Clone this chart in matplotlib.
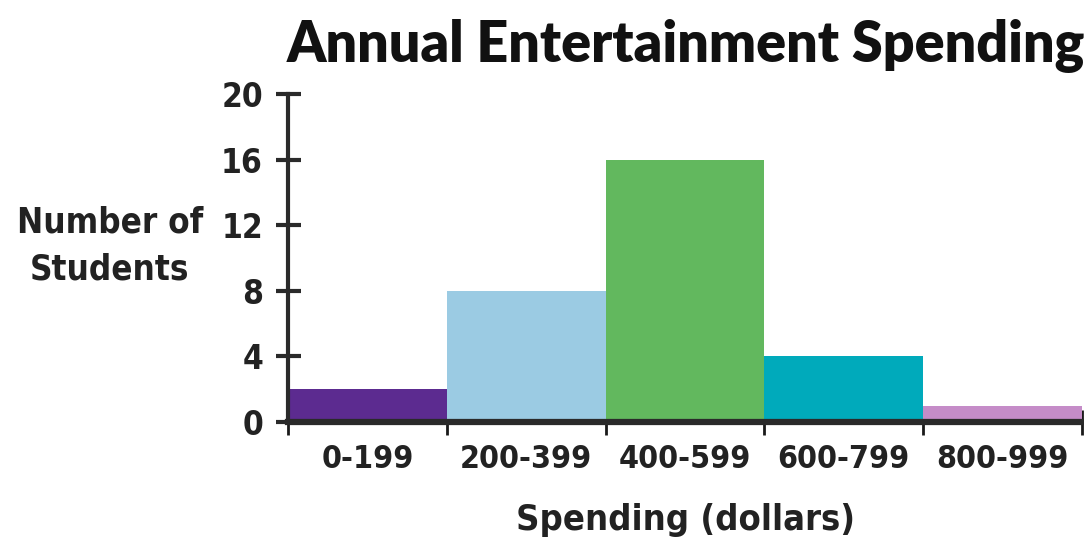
import matplotlib
matplotlib.use("Agg")
import matplotlib.pyplot as plt
import numpy as np

categories = ["0-199", "200-399", "400-599", "600-799", "800-999"]
counts = [2, 8, 16, 4, 1]
colors = ["#5C2B90", "#9BCBE3", "#62B85E", "#00AABB", "#C58CC8"]
yticks = [0, 4, 8, 12, 16, 20]

narrow = ["DejaVu Sans"]

fig = plt.figure(figsize=(10.84, 5.39), dpi=100)
ax = fig.add_axes([288/1084, 1-422/539, (1082-288)/1084, (422-94)/539])

x = np.arange(len(categories))
ax.bar(x, counts, width=1.0, color=colors, edgecolor="none", zorder=2)

ax.set_xlim(-0.5, len(categories) - 0.5)
ax.set_ylim(0, 20)

for s in ["top", "right"]:
    ax.spines[s].set_visible(False)
ax.spines["left"].set_linewidth(3)
ax.spines["bottom"].set_linewidth(4.5)
for s in ["left", "bottom"]:
    ax.spines[s].set_color("#2a2a2a")
    ax.spines[s].set_zorder(3)
ax.spines["left"].set_bounds(0, 20)

tp = dict(family=narrow, fontweight="bold", fontstretch="condensed", color="#222222")
ax.set_yticks(yticks)
ax.set_yticklabels([str(v) for v in yticks], fontsize=24, **tp)
ax.tick_params(axis="y", direction="inout", length=18, width=3, color="#2a2a2a", pad=9)

ax.set_xticks(x)
ax.set_xticklabels(categories, fontsize=23, **tp)
ax.tick_params(axis="x", which="major", length=0, pad=16)
ax.set_xticks(np.arange(-0.5, len(categories)), minor=True)
ax.tick_params(axis="x", which="minor", direction="inout", length=18, width=2, color="#1a1a1a")

fig.text(686/1084, 1-62/539, "Annual Entertainment Spending", ha="center", va="baseline",
         family=["Lato", "DejaVu Sans"], fontweight="heavy", fontsize=40, color="#111111")
fig.text(110/1084, 1-246/539, "Number of\nStudents", ha="center", va="center",
         fontsize=25, linespacing=1.45, **tp)
fig.text(685/1084, 1-530/539, "Spending (dollars)", ha="center", va="baseline",
         fontsize=26, **tp)

fig.savefig("out.png", dpi=100)
